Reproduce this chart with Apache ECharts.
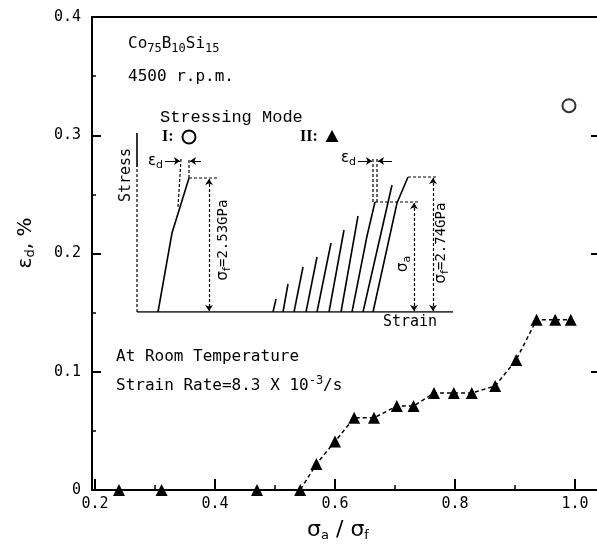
<!DOCTYPE html>
<html>
<head>
<meta charset="utf-8">
<script src="https://cdn.jsdelivr.net/npm/echarts@6/dist/echarts.min.js"></script>
<style>
  html, body { margin: 0; padding: 0; background: #fff; }
  #chart { width: 597px; height: 550px; }
</style>
</head>
<body>
<div id="chart"></div>
<script>
// Stressing mode II (step loading): sigma_a / sigma_f versus residual strain eps_d (%)
const ratioModeII = [0.24, 0.311, 0.47, 0.542, 0.569, 0.60, 0.632, 0.665, 0.703, 0.731,
                     0.765, 0.798, 0.828, 0.867, 0.902, 0.936, 0.967, 0.993];
const strainModeII = [0, 0, 0, 0, 0.022, 0.041, 0.061, 0.061, 0.071, 0.071,
                      0.082, 0.082, 0.082, 0.088, 0.11, 0.144, 0.144, 0.144];
// Stressing mode I (monotonic loading to fracture)
const ratioModeI = [0.99];
const strainModeI = [0.325];

// Tick values
const xTickValues = [0.2, 0.4, 0.6, 0.8, 1.0];
const xMinorTickValues = [0.3, 0.5, 0.7, 0.9];
const yTickValues = [0, 0.1, 0.2, 0.3, 0.4];

// Inset schematic (strain units across, stress units up)
const axisSolid = [[[0, 145], [0, 179]], [[0, 0], [316, 0]]];
const axisDashed = [[[0, 0], [0, 145]]];
const curveModeI = [[21, 0], [35, 79], [52, 134]];
const cyclesModeII = [
  [[136, 0], [139, 13]],
  [[146, 0], [151, 28]],
  [[157, 0], [166, 45]],
  [[169, 0], [180, 55]],
  [[180, 0], [194, 69]],
  [[192, 0], [207, 82]],
  [[204, 0], [221, 96]],
  [[215, 0], [230, 76], [238, 110]],
  [[226, 0], [255, 127]],
  [[236, 0], [260, 109], [271, 135]]
];
const guideDashed = [
  [[52, 134], [52, 153]], [[44, 153], [41, 105]], [[52, 134], [80, 134]],
  [[236, 110], [236, 153]], [[240, 110], [240, 153]],
  [[238, 110], [282, 110]], [[271, 135], [300, 135]]
];
const stressArrows = [
  [[72, 133], [72, 1]],
  [[277, 109], [277, 1]],
  [[296, 134], [296, 1]]
];
const strainArrows = [
  [[28, 151], [43, 151]], [[64, 151], [53, 151]],
  [[221, 151], [235, 151]], [[255, 151], [241, 151]]
];

const MONO = 'DejaVu Sans Mono';
const INK = '#000';

const chart = echarts.init(document.getElementById('chart'), null, { renderer: 'canvas' });

const toPairs = (xs, ys) => xs.map((x, i) => [x, ys[i]]);
const toLines = arr => arr.map(c => ({ coords: c }));

const subRich = {
  base: { fontFamily: MONO, fontSize: 16, color: INK },
  sub: { fontFamily: MONO, fontSize: 12, color: INK, padding: [10, 0, 0, 0] },
  sup: { fontFamily: MONO, fontSize: 12, color: INK, padding: [0, 0, 10, 0] }
};

function label(x, y, text, opts) {
  opts = opts || {};
  return {
    type: 'text', x: x, y: y, rotation: opts.rotation || 0, z: 10,
    style: {
      text: text,
      fill: INK,
      font: opts.font || ('16px ' + MONO),
      align: opts.align || 'left',
      verticalAlign: 'middle',
      rich: opts.rich
    }
  };
}

const greekRich = {
  g: { fontFamily: 'DejaVu Sans', fontSize: 15, color: INK },
  s: { fontFamily: 'DejaVu Sans', fontSize: 11, color: INK, padding: [8, 0, 0, 0] },
  t: { fontFamily: MONO, fontSize: 14, color: INK }
};

const option = {
  backgroundColor: '#fff',
  animation: false,
  grid: [
    { left: 92, right: 0, top: 17, bottom: 60 },
    { left: 137, right: 140, top: 127, bottom: 238 }
  ],
  xAxis: [
    {
      type: 'value', gridIndex: 0, position: 'bottom', min: 0.195, max: 1.0367,
      axisLine: { show: true, onZero: false, lineStyle: { color: INK, width: 2 } },
      axisTick: { show: true, inside: true, length: 11, customValues: xTickValues, lineStyle: { color: INK, width: 2 } },
      axisLabel: {
        customValues: xTickValues, margin: 7, color: INK, fontFamily: MONO, fontSize: 15,
        formatter: v => v.toFixed(1)
      },
      splitLine: { show: false }
    },
    {
      type: 'value', gridIndex: 0, position: 'bottom', min: 0.195, max: 1.0367,
      axisLine: { show: false },
      axisTick: { show: true, inside: true, length: 5, customValues: xMinorTickValues, lineStyle: { color: INK, width: 1.5 } },
      axisLabel: { show: false },
      splitLine: { show: false }
    },
    {
      type: 'value', gridIndex: 0, position: 'top', min: 0.195, max: 1.0367,
      axisLine: { show: true, onZero: false, lineStyle: { color: INK, width: 2 } },
      axisTick: { show: false }, axisLabel: { show: false }, splitLine: { show: false }
    },
    { type: 'value', gridIndex: 1, min: 0, max: 320, show: false }
  ],
  yAxis: [
    {
      type: 'value', gridIndex: 0, position: 'left', min: 0, max: 0.4, interval: 0.1,
      axisLine: { show: true, onZero: false, lineStyle: { color: INK, width: 2 } },
      axisTick: { show: true, inside: true, length: 9, lineStyle: { color: INK, width: 2 } },
      minorTick: { show: true, splitNumber: 2, length: 4, lineStyle: { color: INK, width: 1.5 } },
      axisLabel: { margin: 11, color: INK, fontFamily: MONO, fontSize: 15 },
      splitLine: { show: false }, minorSplitLine: { show: false }
    },
    {
      type: 'value', gridIndex: 0, position: 'right', min: 0, max: 0.4, interval: 0.1,
      axisLine: { show: false, onZero: false },
      axisTick: { show: true, inside: true, length: 6, lineStyle: { color: INK, width: 2 } },
      axisLabel: { show: false }, splitLine: { show: false }
    },
    { type: 'value', gridIndex: 1, min: 0, max: 185, show: false }
  ],
  series: [
    {
      name: 'Mode II', type: 'line', xAxisIndex: 0, yAxisIndex: 0,
      data: toPairs(ratioModeII, strainModeII),
      symbol: 'triangle', symbolSize: 12,
      itemStyle: { color: INK },
      lineStyle: { color: INK, width: 1.5, type: [4, 3] },
      z: 5
    },
    {
      name: 'Mode I', type: 'scatter', xAxisIndex: 0, yAxisIndex: 0,
      data: toPairs(ratioModeI, strainModeI),
      symbol: 'circle', symbolSize: 13,
      itemStyle: { color: '#fff', borderColor: INK, borderWidth: 2 },
      z: 5
    },
    {
      type: 'lines', coordinateSystem: 'cartesian2d', xAxisIndex: 3, yAxisIndex: 2,
      polyline: true, silent: true,
      lineStyle: { color: INK, width: 1.6, opacity: 1 },
      data: toLines(axisSolid.concat([curveModeI], cyclesModeII))
    },
    {
      type: 'lines', coordinateSystem: 'cartesian2d', xAxisIndex: 3, yAxisIndex: 2,
      polyline: true, silent: true,
      lineStyle: { color: INK, width: 1.2, opacity: 1, type: [3, 2] },
      data: toLines(axisDashed.concat(guideDashed))
    },
    {
      type: 'lines', coordinateSystem: 'cartesian2d', xAxisIndex: 3, yAxisIndex: 2,
      silent: true, symbol: ['arrow', 'arrow'], symbolSize: 6,
      lineStyle: { color: INK, width: 1.2, opacity: 1, type: [3, 2] },
      data: toLines(stressArrows)
    },
    {
      type: 'lines', coordinateSystem: 'cartesian2d', xAxisIndex: 3, yAxisIndex: 2,
      silent: true, symbol: ['none', 'arrow'], symbolSize: 6,
      lineStyle: { color: INK, width: 1.2, opacity: 1 },
      data: toLines(strainArrows)
    }
  ],
  graphic: [
    label(128, 44, '{base|Co}{sub|75}{base|B}{sub|10}{base|Si}{sub|15}', { rich: subRich }),
    label(128, 77, '4500 r.p.m.'),
    label(160, 117, 'Stressing Mode', { font: '17px Liberation Mono' }),
    label(162, 137, 'I:', { font: 'bold 16px Liberation Serif' }),
    { type: 'circle', shape: { cx: 189, cy: 137, r: 6.5 }, style: { fill: '#fff', stroke: INK, lineWidth: 2 }, z: 10 },
    label(300, 137, 'II:', { font: 'bold 16px Liberation Serif' }),
    { type: 'polygon', shape: { points: [[332, 130], [338.5, 142], [325.5, 142]] }, style: { fill: INK }, z: 10 },
    label(126, 175, 'Stress', { font: '15px ' + MONO, rotation: Math.PI / 2, align: 'center' }),
    label(410, 322, 'Strain', { font: '15px ' + MONO, align: 'center' }),
    label(163, 161, '{g|ε}{s|d}', { rich: greekRich, align: 'right' }),
    label(356, 158, '{g|ε}{s|d}', { rich: greekRich, align: 'right' }),
    label(223, 240, '{g|σ}{s|f}{t|=2.53GPa}', { rich: greekRich, rotation: Math.PI / 2, align: 'center' }),
    label(441, 243, '{g|σ}{s|f}{t|=2.74GPa}', { rich: greekRich, rotation: Math.PI / 2, align: 'center' }),
    label(403, 264, '{g|σ}{s|a}', { rich: greekRich, rotation: Math.PI / 2, align: 'center' }),
    label(116, 357, 'At Room Temperature'),
    label(116, 386, '{base|Strain Rate=8.3 X 10}{sup|-3}{base|/s}', { rich: subRich }),
    label(26, 243, '{e|ε}{d|d}{e|, %}', {
      rotation: Math.PI / 2, align: 'center',
      rich: {
        e: { fontFamily: 'DejaVu Sans', fontSize: 20, color: INK },
        d: { fontFamily: 'DejaVu Sans', fontSize: 13, color: INK, padding: [10, 0, 0, 0] }
      }
    }),
    label(338, 530, '{e|σ}{d|a}{e| / σ}{d|f}', {
      align: 'center',
      rich: {
        e: { fontFamily: 'DejaVu Sans', fontSize: 22, color: INK },
        d: { fontFamily: 'DejaVu Sans', fontSize: 13, color: INK, padding: [11, 0, 0, 0] }
      }
    })
  ]
};

chart.setOption(option);
</script>
</body>
</html>
